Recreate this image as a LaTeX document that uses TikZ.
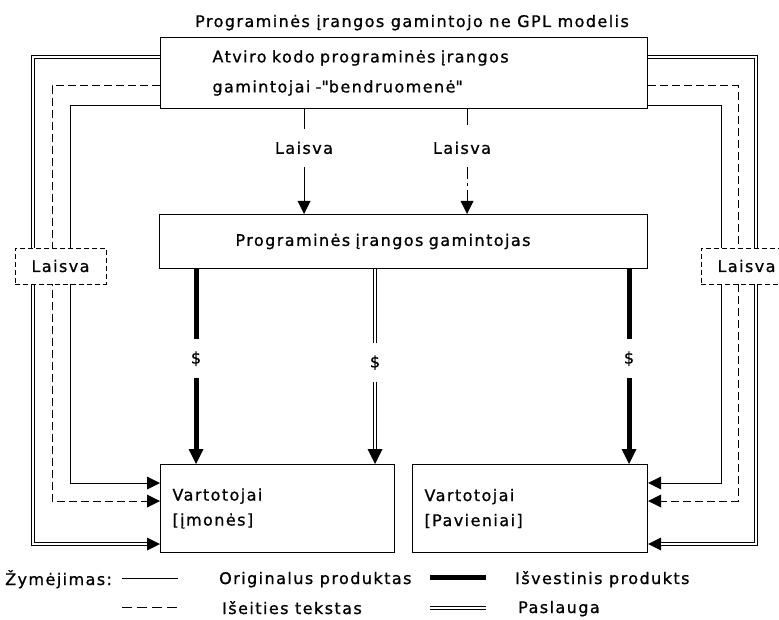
\documentclass[tikz,border=0pt]{standalone}
\usepackage{fontspec}
\setmainfont[LetterSpace=9,FakeBold=0.9]{DejaVu Sans}
\usetikzlibrary{arrows.meta}
\tikzset{
    box/.style = {draw, rectangle, line width=1pt, align=left, inner ysep=0pt},
    tag/.style = {draw, dash pattern=on 5pt off 3pt, line width=.8pt, fill=white,
        minimum width=91pt, minimum height=36pt},
    orig/.style = {line width=1pt},
    srcline/.style = {line width=1pt, dash pattern=on 8pt off 4pt},
    srcmix/.style = {line width=1pt, dash pattern=on 16pt off 4pt on 3pt off 4pt},
    deriv/.style = {line width=5pt},
    svc/.style = {line width=4.8pt, postaction={draw=white, line width=1.8pt, -, shorten >=#1}},
    svc/.default = 0pt,
    tip/.style = {-{Triangle[length=13pt,width=13pt,line width=0pt]}},
    bigtip/.style = {-{Triangle[length=15pt,width=15pt,line width=0pt]}},
    gap/.style = {fill=white, inner xsep=2pt, inner ysep=#1}
}

\begin{document}
\begin{tikzpicture}[x=1pt, y=-1pt, font=\fontsize{16}{20}\selectfont]
    \clip (0,0) rectangle (779,620);
    \node[anchor=base] (title) at (412,27) {Programinės įrangos gamintojo ne GPL modelis};
    \node[box, anchor=north west, minimum height=71pt, text width=383pt, inner xsep=52pt,
        font=\fontsize{16}{30}\selectfont] (src) at (160,37) {Atviro kodo programinės įrangos\\gamintojai -\textquotedbl bendruomenė\textquotedbl};
    \node[box, anchor=north west, minimum height=54pt, text width=336pt, inner xsep=76pt] (mfr) at (159,214) {Programinės įrangos gamintojas};
    \node[box, anchor=north west, minimum height=88pt, text width=210pt, inner xsep=12pt,
        font=\fontsize{16}{25}\selectfont] (cusA) at (160,464) {Vartotojai\\{[}įmonės{]}};
    \node[box, anchor=north west, minimum height=88pt, text width=211pt, inner xsep=12pt,
        font=\fontsize{16}{25}\selectfont] (cusB) at (412,464) {Vartotojai\\{[}Pavieniai{]}};

    % free from the community
    \draw[orig, tip] ([xshift=144pt]src.south west) -- node[gap=13pt, pos=.37] (freeA) {Laisva} ([xshift=145pt]mfr.north west);
    \draw[srcmix, tip] ([xshift=307pt]src.south west) -- node[gap=13pt, pos=.37, xshift=-5pt] (freeB) {Laisva} ([xshift=308pt]mfr.north west);

    % paid, to the users
    \draw[deriv, bigtip] ([xshift=37pt]mfr.south west) -- node[gap=12pt, pos=.46] (payA) {\$} ([xshift=36pt]cusA.north west);
    \draw[svc=15pt, bigtip] ([xshift=216pt]mfr.south west) -- node[gap=12pt, pos=.48] (payB) {\$} ([xshift=215pt]cusA.north west);
    \draw[deriv, bigtip] ([xshift=470pt]mfr.south west) -- node[gap=12pt, pos=.46] (payC) {\$} ([xshift=217pt]cusB.north west);

    % round the sides
    \draw[orig, tip] ([yshift=3pt]src.south west) -| ([xshift=-90pt,yshift=-19pt]cusA.north west) -- ([yshift=-19pt]cusA.north west);
    \draw[srcline, tip] ([yshift=-49pt]src.north west) -| ([xshift=-108pt,yshift=-37pt]cusA.north west) -- ([yshift=-37pt]cusA.north west);
    \draw[svc=13pt, tip] ([yshift=-20pt]src.north west) -| ([xshift=-127pt,yshift=9pt]cusA.south west) -- ([yshift=9pt]cusA.south west);
    \draw[orig, tip] ([yshift=3pt]src.south east) -| ([xshift=73pt,yshift=-19pt]cusB.north east) -- ([yshift=-19pt]cusB.north east);
    \draw[srcline, tip] ([yshift=-49pt]src.north east) -| ([xshift=90pt,yshift=-37pt]cusB.north east) -- ([yshift=-37pt]cusB.north east);
    \draw[svc=13pt, tip] ([yshift=-20pt]src.north east) -| ([xshift=108pt,yshift=9pt]cusB.south east) -- ([yshift=9pt]cusB.south east);

    \node[tag] (freeL) at (60.5,266) {Laisva};
    \node[tag] (freeR) at (746.5,266) {Laisva};

    % legend
    \node[anchor=base west, inner sep=0pt] (key) at (5,585) {Žymėjimas:};
    \draw[orig] (122,578) -- (178,578);
    \node[anchor=base west, inner sep=0pt] (keyOrig) at (219,584) {Originalus produktas};
    \draw[deriv] (430,577) -- (486,577);
    \node[anchor=base west, inner sep=0pt] (keyDeriv) at (515,584) {Išvestinis produkts};
    \draw[srcline, dash pattern=on 10pt off 5pt] (122,607) -- (178,607);
    \node[anchor=base west, inner sep=0pt] (keySrc) at (222,614) {Išeities tekstas};
    \draw[svc] (430,608) -- (486,608);
    \node[anchor=base west, inner sep=0pt] (keySvc) at (518,613) {Paslauga};
\end{tikzpicture}
\end{document}
